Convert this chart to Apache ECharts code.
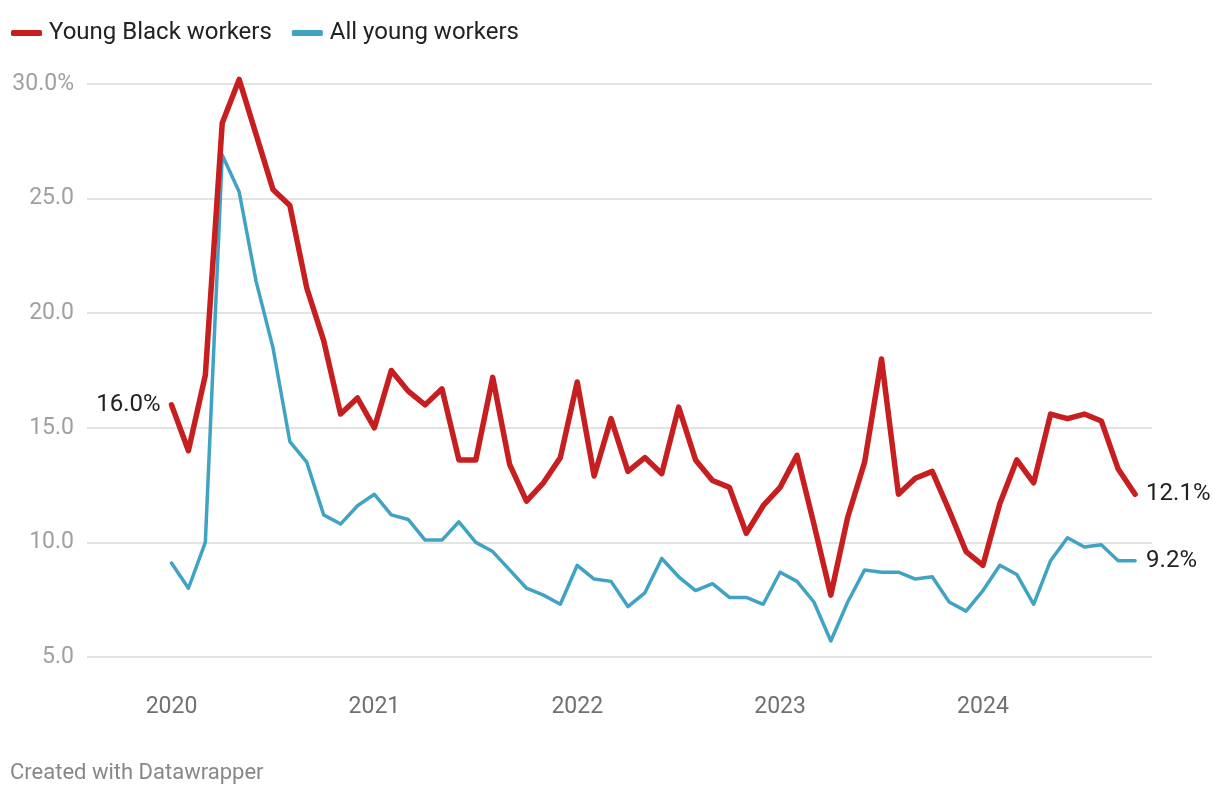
<!DOCTYPE html>
<html>
<head>
<meta charset="utf-8">
<script src="https://cdn.jsdelivr.net/npm/echarts@6/dist/echarts.min.js"></script>
<style>
  html, body { margin: 0; padding: 0; background: #fff; }
  #chart { width: 1220px; height: 796px; }
</style>
</head>
<body>
<div id="chart"></div>
<script>
// Monthly, Jan 2020 .. Oct 2024
const startYear = 2020;
const yearTicks = ['2020', '2021', '2022', '2023', '2024'];
const seriesNames = ['Young Black workers', 'All young workers'];
const youngBlack = [16.0,14.0,17.3,28.3,30.2,27.8,25.4,24.7,21.1,18.8,
  15.6,16.3,15.0,17.5,16.6,16.0,16.7,13.6,13.6,17.2,
  13.4,11.8,12.6,13.7,17.0,12.9,15.4,13.1,13.7,13.0,
  15.9,13.6,12.7,12.4,10.4,11.6,12.4,13.8,10.8,7.7,
  11.1,13.5,18.0,12.1,12.8,13.1,11.4,9.6,9.0,11.7,
  13.6,12.6,15.6,15.4,15.6,15.3,13.2,12.1];
const allYoung = [9.1,8.0,10.0,26.9,25.3,21.4,18.5,14.4,13.5,11.2,
  10.8,11.6,12.1,11.2,11.0,10.1,10.1,10.9,10.0,9.6,
  8.8,8.0,7.7,7.3,9.0,8.4,8.3,7.2,7.8,9.3,
  8.5,7.9,8.2,7.6,7.6,7.3,8.7,8.3,7.4,5.7,
  7.4,8.8,8.7,8.7,8.4,8.5,7.4,7.0,7.9,9.0,
  8.6,7.3,9.2,10.2,9.8,9.9,9.2,9.2];
const yTicks = [5, 10, 15, 20, 25, 30];

const RED = '#c71f1f';
const BLUE = '#41a3c4';
const FONT = 'Roboto';

const redData = youngBlack.map((v, i) => [i, v]);
const blueData = allYoung.map((v, i) => [i, v]);

const chart = echarts.init(document.getElementById('chart'), null, { renderer: 'canvas' });
chart.setOption({
  animation: false,
  backgroundColor: '#fff',
  textStyle: { fontFamily: FONT },
  legend: {
    data: seriesNames,
    left: 6,
    top: 16,
    icon: 'roundRect',
    itemWidth: 31,
    itemHeight: 6,
    itemGap: 20,
    textStyle: { fontFamily: FONT, fontSize: 24, color: '#222', padding: [0, 0, 0, 2] }
  },
  grid: { left: 87, right: 68, top: 84, bottom: 139, containLabel: false },
  xAxis: {
    type: 'value',
    min: -5,
    max: 58,
    interval: 1,
    axisLine: { show: false },
    axisTick: { show: false },
    splitLine: { show: false },
    axisLabel: {
      margin: 39,
      color: '#707070',
      fontSize: 23,
      fontFamily: FONT,
      showMinLabel: false,
      showMaxLabel: false,
      formatter: function (v) {
        if (v >= 0 && v % 12 === 0) {
          const idx = v / 12;
          return yearTicks[idx] || '';
        }
        return '';
      }
    }
  },
  yAxis: {
    type: 'value',
    min: yTicks[0],
    max: yTicks[yTicks.length - 1],
    interval: 5,
    axisLine: { show: false },
    axisTick: { show: false },
    splitLine: { show: true, lineStyle: { color: '#e3e3e3', width: 2 } },
    axisLabel: {
      margin: 13,
      color: '#a0a0a0',
      fontSize: 23,
      fontFamily: FONT,
      formatter: function (v) {
        return v === yTicks[yTicks.length - 1] ? v.toFixed(1) + '%' : v.toFixed(1);
      }
    }
  },
  series: [
    {
      name: seriesNames[1],
      type: 'line',
      data: blueData,
      symbol: 'none',
      clip: false,
      color: BLUE,
      lineStyle: { color: BLUE, width: 3.5, join: 'round', cap: 'round' },
      endLabel: { show: true, distance: 11, color: '#222', fontSize: 24, fontFamily: FONT,
        formatter: p => p.value[1].toFixed(1) + '%' },
      z: 2
    },
    {
      name: seriesNames[0],
      type: 'line',
      data: redData,
      symbol: 'none',
      clip: false,
      color: RED,
      lineStyle: { color: RED, width: 5.5, join: 'round', cap: 'round' },
      endLabel: { show: true, distance: 11, color: '#222', fontSize: 24, fontFamily: FONT,
        formatter: p => p.value[1].toFixed(1) + '%' },
      markPoint: {
        symbol: 'circle',
        symbolSize: 2,
        itemStyle: { color: 'rgba(0,0,0,0)' },
        label: { show: true, position: 'left', distance: 10, color: '#222',
          fontSize: 24, fontFamily: FONT, formatter: p => p.value.toFixed(1) + '%' },
        data: [{ coord: redData[0], value: youngBlack[0] }]
      },
      z: 3
    }
  ],
  graphic: [
    {
      type: 'text',
      left: 10,
      top: 762,
      style: { text: 'Created with Datawrapper', fill: '#888', fontSize: 22, fontFamily: FONT }
    }
  ]
});
</script>
</body>
</html>
